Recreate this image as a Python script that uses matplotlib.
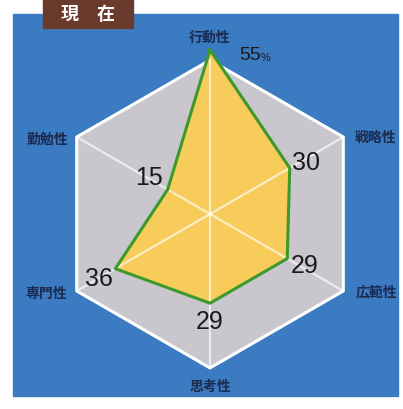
import numpy as np
import matplotlib
matplotlib.use("Agg")
import matplotlib.pyplot as plt
from matplotlib.patches import Rectangle

plt.rcParams["font.family"] = ["Noto Sans CJK JP", "DejaVu Sans"]

# data (clockwise from top)
labels = ["行動性", "戦略性", "広範性", "思考性", "専門性", "勤勉性"]
values = [55, 30, 29, 29, 36, 15]
RMIN, RMAX, HEX = -2, 55, 51.5

BLUE, GRAY, YEL, GRN, INK = "#3b7bc2", "#c9c7cd", "#f8cc5a", "#3c9a2c", "#1b2b4e"
NUM = ["Liberation Sans", "DejaVu Sans"]

fig = plt.figure(figsize=(4.03, 4.10), dpi=100)
fig.patches.append(Rectangle((13 / 403, 13 / 410), 385 / 403, 382 / 410,
                             transform=fig.transFigure, color=BLUE, zorder=0))
fig.patches.append(Rectangle((43 / 403, 381 / 410), 90 / 403, 29 / 410,
                             transform=fig.transFigure, color="#6a3b2c",
                             zorder=1))
fig.text(88 / 403, 396 / 410, "現　在", color="white", fontsize=13,
         fontweight="bold", ha="center", va="center", zorder=2)

ax = fig.add_axes([(210 - 164) / 403, (195 - 164) / 410, 328 / 403, 328 / 410],
                  projection="polar")
ax.set_zorder(3)
ax.set_theta_zero_location("N")
ax.set_theta_direction(-1)
ax.set_ylim(RMIN, RMAX)
ax.set_facecolor("none")
ax.spines["polar"].set_visible(False)
ax.grid(False)
ax.set_xticks([])
ax.set_yticks([])

theta = np.deg2rad(np.arange(len(labels)) * 60)
tc = np.append(theta, theta[0])
hexr = np.full(len(tc), HEX)
ax.fill(tc, hexr, color=GRAY, zorder=1)
ax.plot(tc, hexr, color="white", lw=2.2, zorder=2)

vc = np.append(values, values[0])
ax.fill(tc, vc, color=YEL, zorder=3, clip_on=False)
for t in theta:
    ax.plot([t, t], [RMIN, HEX], color="white", lw=1.6, alpha=0.65, zorder=4)
ax.plot(tc, vc, color=GRN, lw=2.2, zorder=5, clip_on=False)

# category labels (pixel offsets from hexagon vertices)
lab_off = [(0, 23), (32, 0), (33, 0), (0, -18), (-31, -2), (-29, -2)]
for t, lab, off in zip(theta, labels, lab_off):
    ax.annotate(lab, (t, HEX), xytext=off, textcoords="offset pixels",
                ha="center", va="center", fontsize=10, fontweight="bold",
                color=INK, annotation_clip=False, zorder=6)

# value labels
val_off = [(40, -4), (16, 6), (17, -6), (0, -18), (-16, -9), (-19, 13)]
for i, (t, v, off) in enumerate(zip(theta, values, val_off)):
    ax.annotate(str(v), (t, v), xytext=off, textcoords="offset pixels",
                ha="center", va="center", fontsize=14 if i == 0 else 18,
                color="#1a1a1a", family=NUM, annotation_clip=False, zorder=6)
ax.annotate("%", (theta[0], values[0]), xytext=(56, -7),
            textcoords="offset pixels", ha="center", va="center",
            fontsize=8, color="#1a1a1a", family=NUM, annotation_clip=False,
            zorder=6)

fig.savefig("out.png", dpi=100)
